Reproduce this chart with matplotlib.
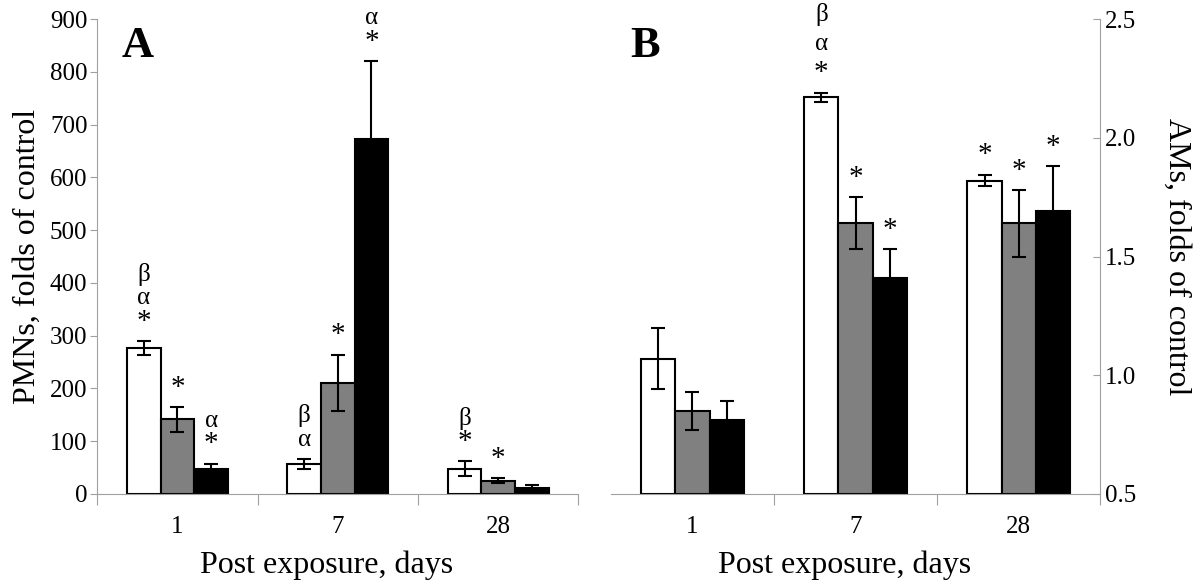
import matplotlib
matplotlib.use('Agg')
import matplotlib.pyplot as plt
import numpy as np

plt.rcParams['font.family'] = ['Liberation Serif', 'DejaVu Serif']

days = ['1', '7', '28']
colors = ['white', '#808080', 'black']

# panel A: PMNs, folds of control
pmn_mean = [[276, 57, 48], [141, 211, 25], [48, 672, 12]]
pmn_err = [[13, 9, 14], [23, 53, 5], [9, 148, 4]]
pmn_marks = [[['*', 'α', 'β'], ['α', 'β'], ['*', 'β']],
             [['*'], ['*'], ['*']],
             [['*', 'α'], ['*', 'α'], []]]

# panel B: AMs, folds of control
am_mean = [[1.07, 2.17, 1.82], [0.85, 1.64, 1.64], [0.81, 1.41, 1.69]]
am_err = [[0.13, 0.02, 0.025], [0.08, 0.11, 0.14], [0.08, 0.12, 0.19]]
am_marks = [[[], ['*', 'α', 'β'], ['*']],
            [[], ['*'], ['*']],
            [[], ['*'], ['*']]]

fig = plt.figure(figsize=(12, 5.81), dpi=100)
axA = fig.add_axes([0.081, 0.150, 0.401, 0.817])
axB = fig.add_axes([0.509, 0.150, 0.408, 0.817])

w = 0.21
x = np.arange(3)
grey = '#a0a0a0'


def draw(ax, mean, err, marks, base, step):
    for i in range(3):
        xs = x + (i - 1) * w
        h = np.array(mean[i]) - base
        ax.bar(xs, h, w, bottom=base, color=colors[i], edgecolor='black',
               linewidth=1.5, zorder=2)
        ax.errorbar(xs, mean[i], yerr=err[i], fmt='none', ecolor='black',
                    elinewidth=1.5, capsize=5, capthick=1.5, zorder=3)
        for j in range(3):
            top = mean[i][j] + err[i][j]
            for k, s in enumerate(marks[i][j]):
                fs = 21 if s == '*' else 18
                ax.annotate(s, xy=(xs[j], top), xytext=(0, 14 + step * k),
                            textcoords='offset points', ha='center',
                            va='center', fontsize=fs, annotation_clip=False)
    ax.set_xlim(-0.5, 2.5)
    ax.set_xticks([0, 1, 2], minor=True)
    ax.set_xticklabels(days, minor=True)
    ax.tick_params(axis='x', which='minor', length=0, pad=16, labelsize=18)
    ax.tick_params(axis='x', which='major', length=8, color=grey,
                   labelbottom=False)
    ax.set_xlabel('Post exposure, days', fontsize=23, labelpad=9)
    ax.xaxis.label.set_x(0.477)


draw(axA, pmn_mean, pmn_err, pmn_marks, 0, 17)
axA.set_xticks([-0.5, 0.5, 1.5, 2.5])
axA.set_ylim(0, 900)
axA.set_yticks(np.arange(0, 901, 100))
axA.tick_params(axis='y', labelsize=18, length=5, color=grey, pad=2)
axA.set_ylabel('PMNs, folds of control', fontsize=23, labelpad=6)
for s in ['top', 'right']:
    axA.spines[s].set_visible(False)
for s in ['left', 'bottom']:
    axA.spines[s].set_color(grey)
axA.text(0.05, 0.985, 'A', transform=axA.transAxes, fontsize=32,
         fontweight='bold', va='top')

draw(axB, am_mean, am_err, am_marks, 0.5, 21)
axB.set_xticks([0.5, 1.5, 2.5])
axB.set_ylim(0.5, 2.5)
axB.set_yticks([0.5, 1.0, 1.5, 2.0, 2.5])
axB.set_yticklabels(['0.5', '1.0', '1.5', '2.0', '2.5'])
axB.yaxis.tick_right()
axB.yaxis.set_label_position('right')
axB.tick_params(axis='y', labelsize=18, length=5, color=grey, direction='in',
                pad=3)
axB.set_ylabel('AMs, folds of control', fontsize=23, rotation=270,
               labelpad=40)
for s in ['top', 'left']:
    axB.spines[s].set_visible(False)
for s in ['right', 'bottom']:
    axB.spines[s].set_color(grey)
axB.text(0.04, 0.985, 'B', transform=axB.transAxes, fontsize=32,
         fontweight='bold', va='top')

fig.savefig('out.png', dpi=100)
